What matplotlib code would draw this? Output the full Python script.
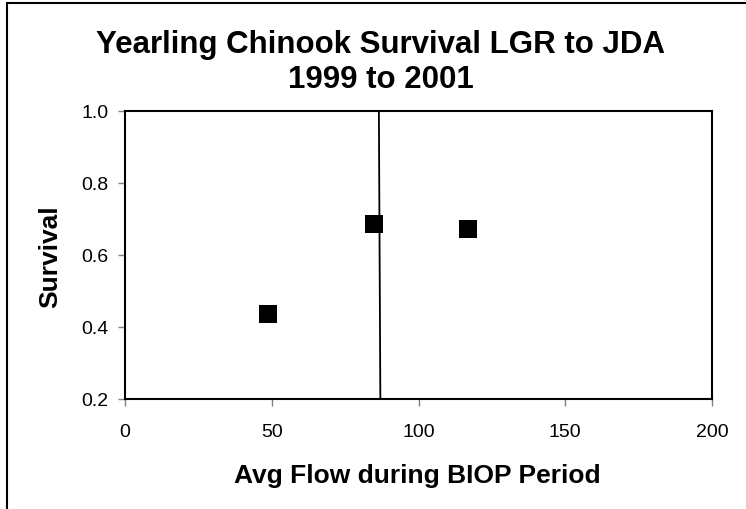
import matplotlib
matplotlib.use("Agg")
import matplotlib.pyplot as plt
from matplotlib.patches import Rectangle

# Data
flow = [48.8, 84.9, 116.9]
survival = [0.435, 0.685, 0.673]
ref_line_x = [86.5, 87.0]
ref_line_y = [1.0, 0.2]
xticks = [0, 50, 100, 150, 200]
yticks = [0.2, 0.4, 0.6, 0.8, 1.0]
title_lines = ["Yearling Chinook Survival LGR to JDA", "1999 to 2001"]
xlabel = "Avg Flow during BIOP Period"
ylabel = "Survival"

W, H, DPI = 746, 510, 100
plt.rcParams['font.family'] = ['Liberation Sans', 'DejaVu Sans']
fig = plt.figure(figsize=(W / DPI, H / DPI), dpi=DPI)

def fx(px):
    return px / W

def fy(py):
    return 1 - py / H

ax = fig.add_axes([fx(125), fy(400), fx(712) - fx(125), fy(112) - fy(400)])
ax.set_xlim(0, 200)
ax.set_ylim(0.2, 1.0)
ax.plot(ref_line_x, ref_line_y, color='black', lw=1.3, clip_on=False)
ax.plot(flow, survival, linestyle='none', marker='s', markersize=12.3,
        color='black', markeredgewidth=0)
ax.set_xticks(xticks)
ax.set_xticklabels([str(v) for v in xticks])
ax.set_yticks(yticks)
ax.set_yticklabels([f"{v:.1f}" for v in yticks])
ax.tick_params(direction='out', length=5, width=1, color='#808080',
               labelsize=14, labelcolor='black')
ax.tick_params(axis='x', pad=12)
ax.tick_params(axis='y', pad=7)
for s in ax.spines.values():
    s.set_linewidth(1.5)
    s.set_color('black')

# Titles / labels
fig.text(fx(381), fy(53), title_lines[0], ha='center', va='baseline',
         fontsize=22.5, fontweight='bold')
fig.text(fx(381), fy(88), title_lines[1], ha='center', va='baseline',
         fontsize=22.5, fontweight='bold')
fig.text(fx(417), fy(483), xlabel, ha='center', va='baseline',
         fontsize=19, fontweight='bold')
fig.text(fx(50), fy(257), ylabel, ha='center', va='center', rotation=90,
         fontsize=19, fontweight='bold')

# chart border (left/top visible)
fig.patches.append(Rectangle((fx(7), -0.05), 1.2, fy(4) + 0.05,
                             transform=fig.transFigure, fill=False,
                             edgecolor='black', linewidth=1.5))

fig.savefig("out.png", dpi=DPI, facecolor='white')
